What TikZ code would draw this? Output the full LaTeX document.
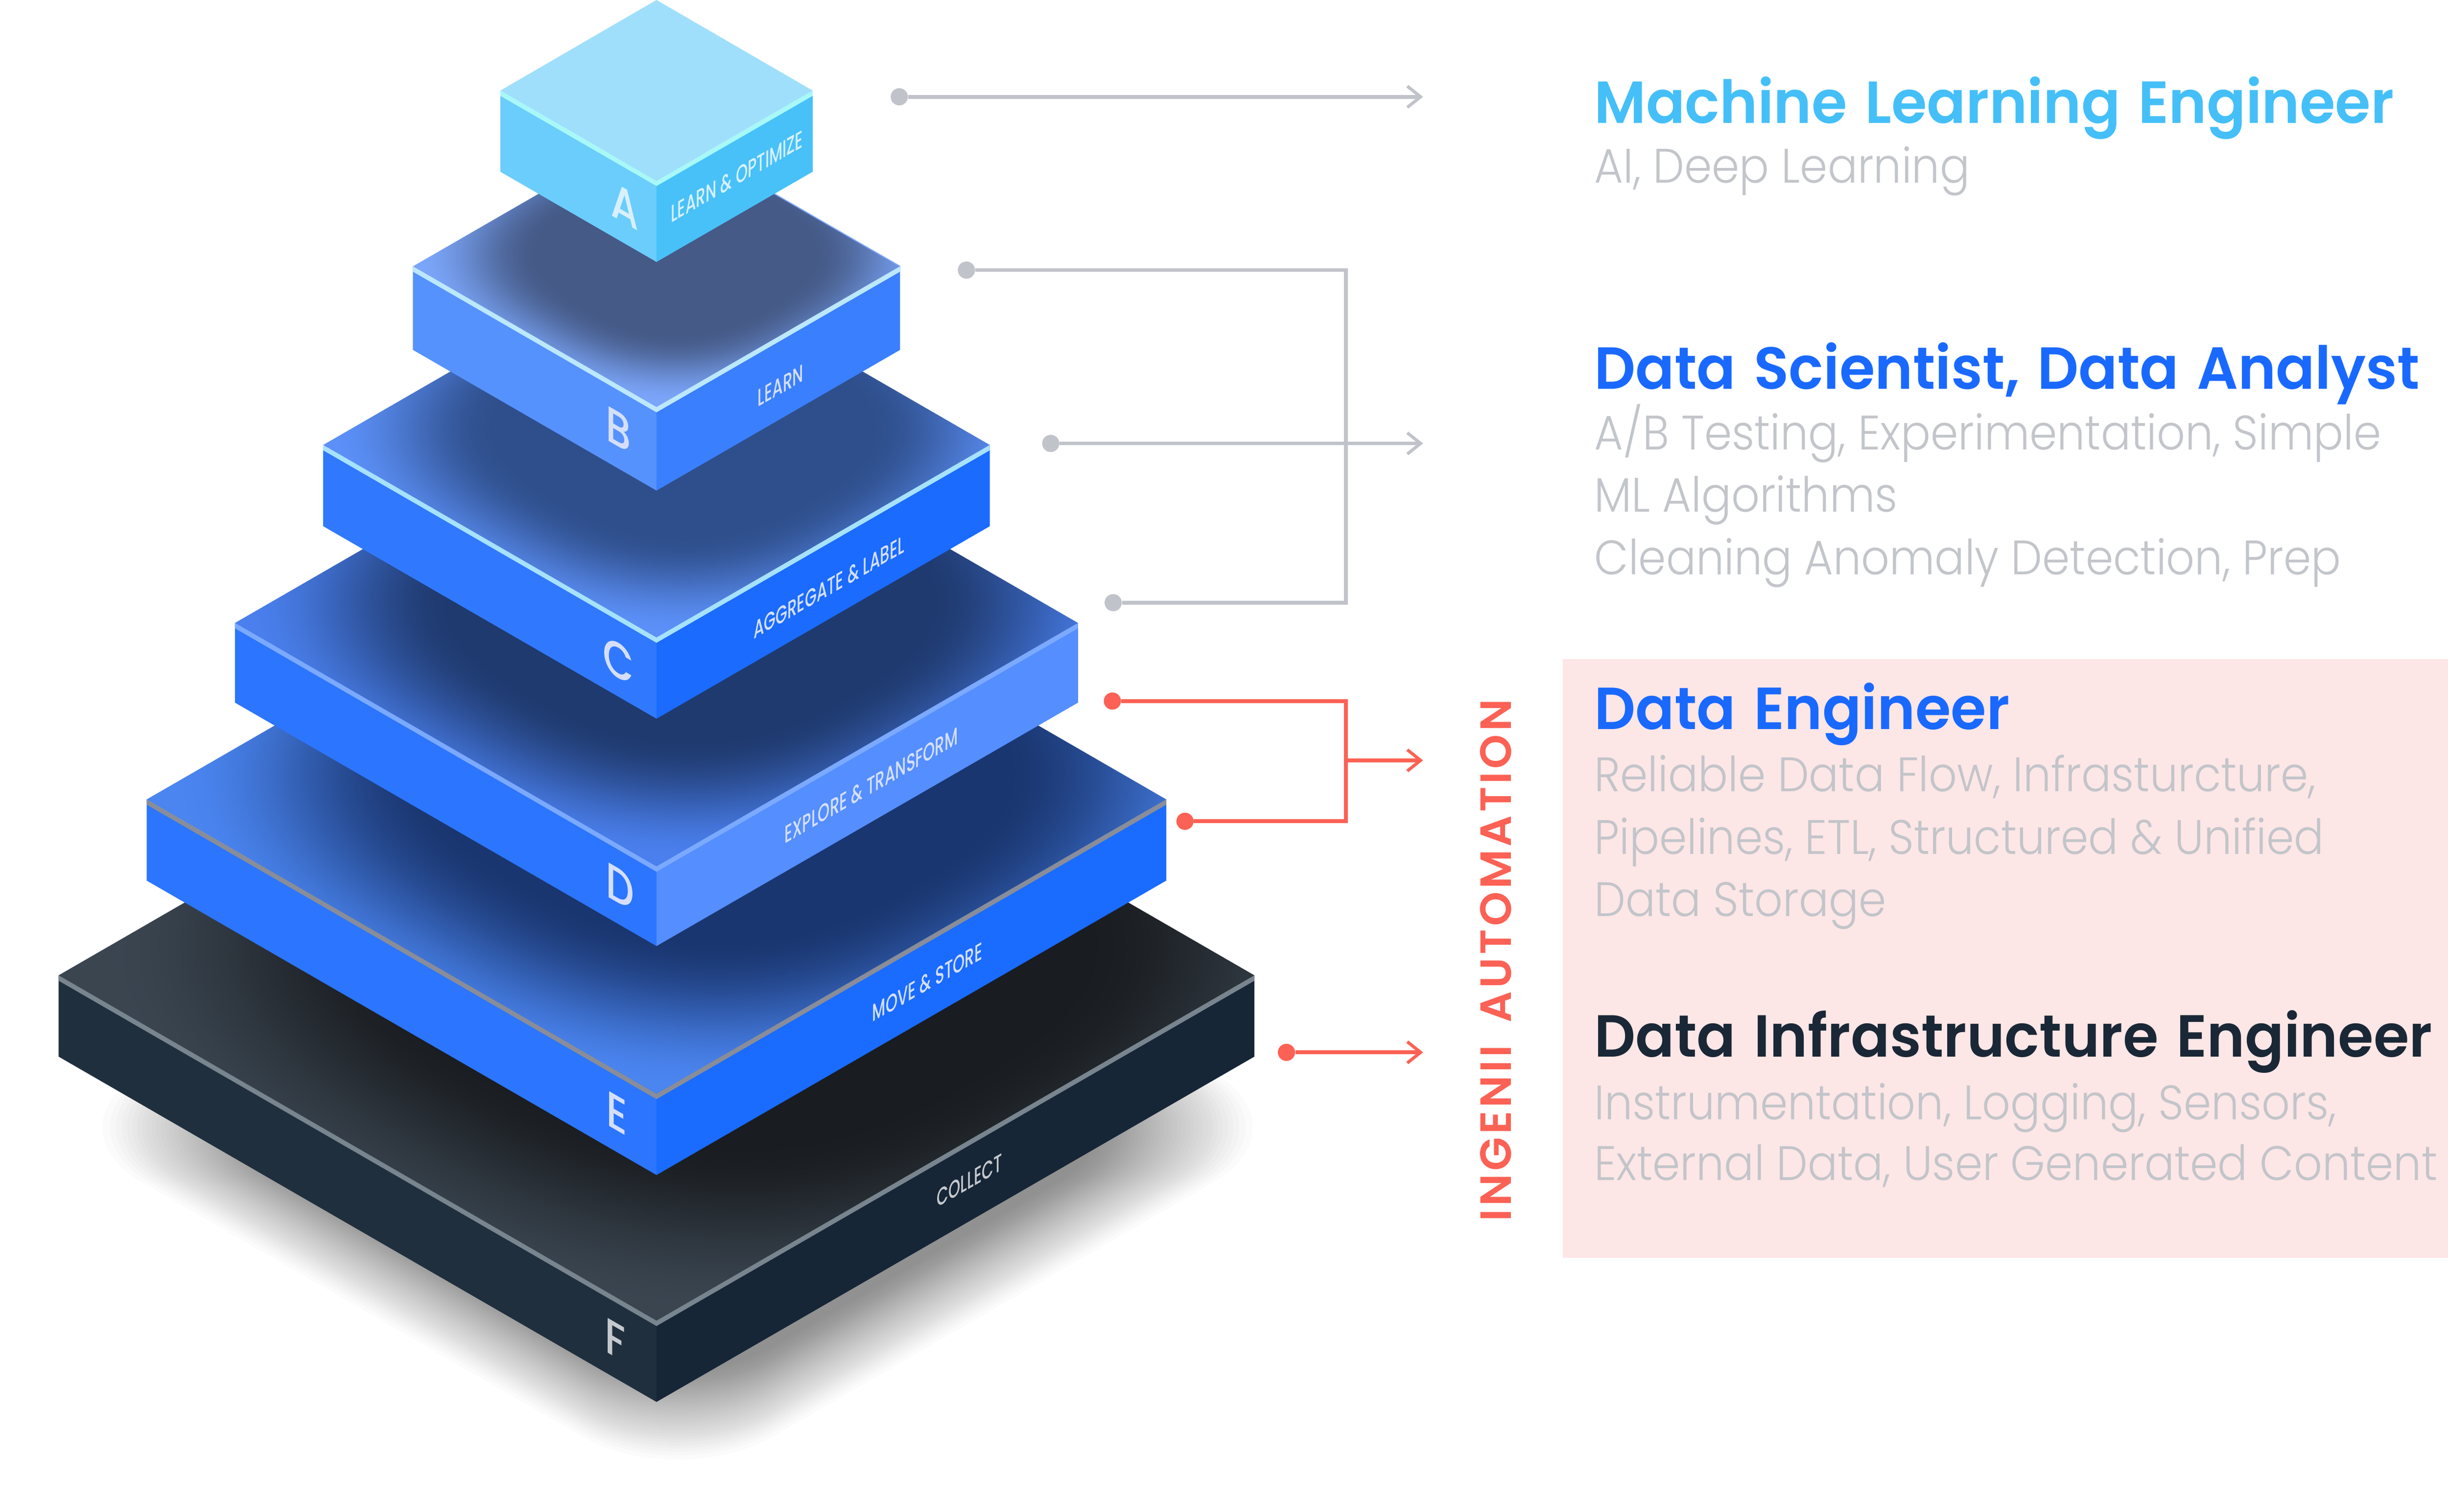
\documentclass[tikz,border=0pt]{standalone}
\usepackage{fontspec}
\usetikzlibrary{arrows.meta}
\setmainfont{Poppins}
\newfontfamily\ttlfont[FakeStretch=0.97,WordSpace=1.3]{Poppins SemiBold}
\newfontfamily\bodyfont[FakeStretch=0.915]{Poppins Light}
\newfontfamily\autofont[LetterSpace=7]{Poppins SemiBold}
\newfontfamily\facefont{Poppins Medium}
\definecolor{sideAl}{HTML}{6BCDFB}\definecolor{sideAr}{HTML}{48C1F8}\definecolor{rimA}{HTML}{A8F8F8}\definecolor{topA}{HTML}{A0DFFC}
\definecolor{sideBl}{HTML}{5692FE}\definecolor{sideBr}{HTML}{3A7FFD}\definecolor{rimB}{HTML}{BCE8FF}\definecolor{edgeB}{HTML}{7BA5F9}
\definecolor{sideCl}{HTML}{3079FE}\definecolor{sideCr}{HTML}{1A6BFE}\definecolor{rimC}{HTML}{A6E2FF}
\definecolor{sideDl}{HTML}{2C75FE}\definecolor{sideDr}{HTML}{548EFF}\definecolor{rimD}{HTML}{7BA9FF}
\definecolor{sideEl}{HTML}{2C75FE}\definecolor{sideEr}{HTML}{1A6BFF}\definecolor{rimE}{HTML}{888D99}
\definecolor{sideFl}{HTML}{1F2F3D}\definecolor{sideFr}{HTML}{162637}\definecolor{rimF}{HTML}{78858F}
\definecolor{pinkbg}{HTML}{FDE6E6}
\definecolor{linegray}{HTML}{C0C3C9}
\definecolor{linered}{HTML}{FB6154}
\definecolor{bodygray}{HTML}{C2C5CA}
\definecolor{ttlsky}{HTML}{45BFF8}
\definecolor{ttlblue}{HTML}{1A69FF}
\definecolor{ttlink}{HTML}{1A2736}
\definecolor{faceA}{HTML}{D8F0FD}\definecolor{faceB}{HTML}{D5DFFC}\definecolor{faceF}{HTML}{C5C8CC}
% falloff in the plane of the top face; dark rgb, then light minus dark
\newcommand{\declshade}[7]{%
  \pgfdeclarefunctionalshading{sh#1}{\pgfpoint{-50bp}{-50bp}}{\pgfpoint{50bp}{50bp}}{}{%
    abs 25 div 2.5 exp
    exch abs 25 div 2.5 exp add
    0.4 exp
    0.74 sub 0.66 div
    dup 0 lt {pop 0} if dup 1 gt {pop 1} if
    dup dup mul exch 2 mul 3 exch sub mul
    dup #5 mul #2 add exch dup #6 mul #3 add exch #7 mul #4 add
  }}
\declshade{B}{.27}{.353}{.529}{.212}{.294}{.447}
\declshade{C}{.184}{.31}{.549}{.176}{.255}{.424}
\declshade{D}{.122}{.227}{.435}{.168}{.273}{.495}
\declshade{E}{.102}{.212}{.44}{.188}{.308}{.5}
\declshade{F}{.098}{.11}{.125}{.129}{.16}{.189}
\newcommand{\isoK}{0.5775}
% #1 key, #2 half width, #3 y of left corner, #4 side height
\newcommand{\slabsides}[4]{%
  \pgfmathsetmacro{\hw}{#2}\pgfmathsetmacro{\ly}{#3}
  \pgfmathsetmacro{\fy}{\ly+\isoK*\hw}
  \fill[side#1l] (420.5-\hw,\ly) -- (420.5,\fy) -- (420.5,\fy+#4) -- (420.5-\hw,\ly+#4) -- cycle;
  \fill[side#1r] (420.5+\hw,\ly) -- (420.5,\fy) -- (420.5,\fy+#4) -- (420.5+\hw,\ly+#4) -- cycle;
}
\newcommand{\slabrim}[1]{%
  \fill[rim#1] (420.5-\hw,\ly) -- (420.5,\fy) -- (420.5+\hw,\ly) -- (420.5+\hw,\ly+3.4) -- (420.5,\fy+3.4) -- (420.5-\hw,\ly+3.4) -- cycle;
}
% top face with projected shading; #1 key, #2 x shift of centre, #3 upward shift
\newcommand{\slabtop}[3]{%
  \begin{scope}
    \clip (420.5-\hw,\ly) -- (420.5,\fy) -- (420.5+\hw,\ly) -- (420.5,\ly-\isoK*\hw) -- cycle;
    \begin{pgfscope}
      \pgfmathsetmacro{\ua}{\hw/2/25.09}\pgfmathsetmacro{\ub}{\isoK*\hw/2/25.09}
      \pgfmathsetmacro{\cx}{420.5+#2*\hw}
      \pgfmathsetmacro{\cy}{-\ly+#3*\hw}
      \pgftransformcm{\ua}{\ub}{-\ua}{\ub}{\pgfpoint{\cx pt}{\cy pt}}
      \pgflowlevelsynccm
      \pgfuseshading{sh#1}
    \end{pgfscope}
  \end{scope}
}
\tikzset{
  dotg/.style={circle,fill=linegray,inner sep=0pt,minimum size=11pt},
  dotr/.style={circle,fill=linered,inner sep=0pt,minimum size=11pt},
  congray/.style={draw=linegray,line width=2.4pt},
  conred/.style={draw=linered,line width=2.4pt},
  tip/.style={-{Straight Barb[length=8.5pt,width=13.6pt,line width=2pt]}},
  ttl/.style={anchor=base west,inner sep=0pt,font=\ttlfont\fontsize{38}{38}\selectfont},
  bodyline/.style={anchor=base west,inner sep=0pt,text=bodygray,font=\bodyfont\fontsize{31}{31}\selectfont},
  rightlab/.style={transform shape,inner sep=0pt,font=\facefont\fontsize{15.5}{15.5}\selectfont},
  leftlab/.style={transform shape,inner sep=0pt,font=\facefont\fontsize{32}{32}\selectfont},
}
\newcommand{\rlab}[5]{\node[rightlab,text=#5,shift={(#2,#3)},cm={.625,.361,0,1,(0,0)}] (#1) at (0,0) {#4};}
\newcommand{\llab}[5]{\node[leftlab,text=#5,shift={(#2,#3)},cm={.8,-.462,0,1,(0,0)}] (#1) at (0,0) {#4};}
\begin{document}
\begin{tikzpicture}[x=1pt,y=-1pt]
\useasboundingbox (0,0) rectangle (1568,968.1);
\fill[pinkbg] (1001,422) rectangle (1568,805.5);
% shadow under F
\foreach \i in {0,...,35}{
  \pgfmathsetmacro{\sw}{404-100*(\i/35)^0.85}
  \fill[black,opacity=.016,rounded corners=70pt] (434-\sw,722) -- (434,722+\isoK*\sw) -- (434+\sw,722) -- (434,722-\isoK*\sw) -- cycle;
}
% slabs
\slabsides{F}{383}{624.7}{52}\slabtop{F}{.14}{.05}\slabrim{F}
\rlab{labF}{621}{756}{COLLECT}{faceF}\llab{letF}{394}{858}{F}{faceF}
\slabsides{E}{326.5}{512}{52}\slabtop{E}{.12}{.05}\slabrim{E}
\rlab{labE}{594}{629}{MOVE \& STORE}{faceB}\llab{letE}{395}{713}{E}{faceB}
\slabsides{D}{270}{399}{51}\slabtop{D}{.08}{.05}\slabrim{D}
\rlab{labD}{558}{503}{EXPLORE \& TRANSFORM}{faceB}\llab{letD}{397}{568}{D}{faceB}
\slabsides{C}{213.5}{285}{52}\slabtop{C}{.08}{.05}\slabrim{C}
\rlab{labC}{531}{376}{AGGREGATE \& LABEL}{faceB}\llab{letC}{396}{423}{C}{faceB}
\slabsides{B}{156}{170.6}{53.5}\slabtop{B}{.08}{.05}\slabrim{B}
\draw[edgeB,line width=.7pt] (420.5,\ly-\isoK*\hw) -- (420.5+\hw,\ly);
\rlab{labB}{500}{247}{LEARN}{faceB}\llab{letB}{396}{275}{B}{faceB}
\slabsides{A}{100}{58}{52}
\fill[topA] (320.5,58) -- (420.5,115.7) -- (520.5,58) -- (420.5,0) -- cycle;
\slabrim{A}
\rlab{labA}{472}{113}{LEARN \& OPTIMIZE}{faceA}\llab{letA}{400}{132}{A}{faceA}
% connectors
\node[dotg] (d1) at (576,62) {};
\coordinate (a1) at (911.5,62);
\draw[congray,tip] (d1) -- (a1);
\node[dotg] (d2) at (619,173) {};
\node[dotg] (d3) at (713,386) {};
\coordinate (j2a) at (862,173);
\coordinate (j2b) at (862,386);
\draw[congray] (d2) -- (j2a) -- (j2b) -- (d3);
\node[dotg] (d4) at (673,284) {};
\coordinate (a2) at (911.5,284);
\draw[congray,tip] (d4) -- (a2);
\node[dotr] (d5) at (712.5,449) {};
\node[dotr] (d6) at (759,526) {};
\coordinate (j3a) at (862,449);
\coordinate (j3b) at (862,526);
\coordinate (j3m) at (862,487);
\coordinate (a3) at (911.5,487);
\draw[conred] (d5) -- (j3a) -- (j3b) -- (d6);
\draw[conred,tip] (j3m) -- (a3);
\node[dotr] (d7) at (824,674) {};
\coordinate (a4) at (911.5,674);
\draw[conred,tip] (d7) -- (a4);
% texts
\node[ttl,text=ttlsky] (t1) at (1021,79) {Machine Learning Engineer};
\node[bodyline] (b11) at (1021,117) {AI, Deep Learning};
\node[ttl,text=ttlblue] (t2) at (1021,249) {Data Scientist, Data Analyst};
\node[bodyline] (b21) at (1021,288) {A/B Testing, Experimentation, Simple};
\node[bodyline] (b22) at (1021,328) {ML Algorithms};
\node[bodyline] (b23) at (1021,368) {Cleaning Anomaly Detection, Prep};
\node[ttl,text=ttlblue] (t3) at (1021,467) {Data Engineer};
\node[bodyline] (b31) at (1021,507) {Reliable Data Flow, Infrasturcture,};
\node[bodyline] (b32) at (1021,547) {Pipelines, ETL, Structured \& Unified};
\node[bodyline] (b33) at (1021,587) {Data Storage};
\node[ttl,text=ttlink] (t4) at (1021,677) {Data Infrastructure Engineer};
\node[bodyline] (b41) at (1021,717) {Instrumentation, Logging, Sensors,};
\node[bodyline] (b42) at (1021,756) {External Data, User Generated Content};
\node[rotate=90,inner sep=0pt,text=linered,font=\autofont\fontsize{28}{28}\selectfont] (auto) at (958,615) {INGENII\hspace{6pt} AUTOMATION};
\end{tikzpicture}
\end{document}
